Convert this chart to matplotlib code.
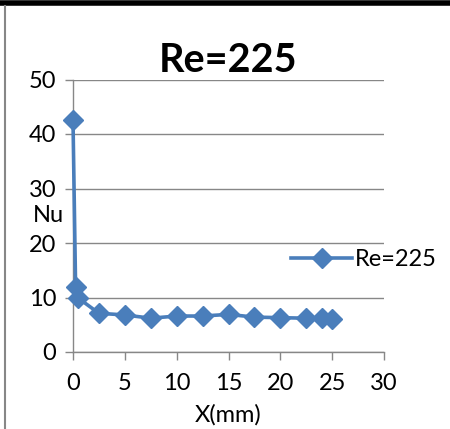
import matplotlib.pyplot as plt
from matplotlib.lines import Line2D

# data
x_mm = [0, 0.25, 0.5, 2.5, 5, 7.5, 10, 12.5, 15, 17.5, 20, 22.5, 24, 25]
nu = [42.5, 12.0, 9.9, 7.1, 6.8, 6.2, 6.6, 6.6, 6.9, 6.4, 6.3, 6.2, 6.2, 6.1]
x_ticks = [0, 5, 10, 15, 20, 25, 30]
y_ticks = [0, 10, 20, 30, 40, 50]
series_label = "Re=225"

plt.rcParams['font.family'] = ['Lato', 'DejaVu Sans']
blue = "#4a7ebb"
grey = "#878787"
fs = 17

fig = plt.figure(figsize=(4.5, 4.29), dpi=100)
ax = fig.add_axes([73 / 450, 1 - 352 / 429, 311 / 450, 272.5 / 429])

ax.plot(x_mm, nu, color=blue, lw=2.6, marker="D", markersize=10,
        markerfacecolor=blue, markeredgecolor=blue, label=series_label,
        clip_on=False, zorder=3)

ax.set_xlim(0, 30)
ax.set_ylim(0, 50)
ax.set_xticks(x_ticks)
ax.set_yticks(y_ticks)
ax.grid(axis="y", color=grey, lw=1)
ax.set_axisbelow(True)
for side in ["top", "right"]:
    ax.spines[side].set_visible(False)
for side in ["left", "bottom"]:
    ax.spines[side].set_color(grey)
    ax.spines[side].set_linewidth(1)
ax.tick_params(axis="both", colors=grey, length=6, width=1, labelsize=fs,
               labelcolor="black")
ax.tick_params(axis="x", pad=9)
ax.tick_params(axis="y", pad=6)

ax.set_title("Re=225", fontsize=28.5, fontweight="bold", pad=4)
ax.set_xlabel("X(mm)", fontsize=fs, labelpad=0)
ax.xaxis.set_label_coords(0.5, -0.19)
ax.set_ylabel("Nu", fontsize=fs, rotation=0, va="center")
ax.yaxis.set_label_coords(-0.08, 0.5)

ax.legend(loc="center left", bbox_to_anchor=(0.67, 0.338), frameon=False,
          fontsize=fs, handlelength=2.6, handletextpad=0.1, borderaxespad=0)

# page border bits around the chart
fig.add_artist(Line2D([0, 0.995], [1 - 3 / 429, 1 - 3 / 429], color="black", lw=4))
fig.add_artist(Line2D([5 / 450, 5 / 450], [0, 1 - 6 / 429], color=grey, lw=1.5))

fig.savefig("out.png", dpi=100)
